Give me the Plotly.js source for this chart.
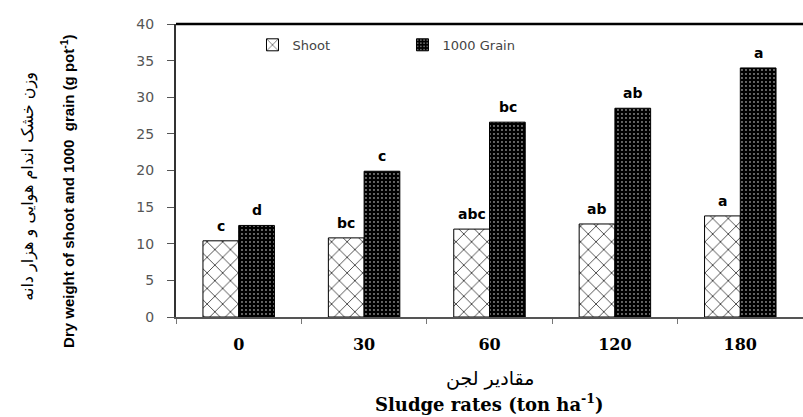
<!DOCTYPE html>
<html>
<head>
<meta charset="utf-8">
<script src="https://cdn.plot.ly/plotly-3.0.1.min.js"></script>
<style>html,body{margin:0;padding:0;background:#fff;}#chart{width:803px;height:417px;}</style>
</head>
<body>
<div id="chart"></div>
<script>
const categories = ["0", "30", "60", "120", "180"];
const shootValues = [10.4, 10.8, 12.0, 12.7, 13.8];
const grainValues = [12.5, 19.9, 26.6, 28.5, 34.0];
const shootLetters = ["c", "bc", "abc", "ab", "a"];
const grainLetters = ["d", "c", "bc", "ab", "a"];
const seriesNames = ["Shoot", "1000 Grain"];
const yTicks = [0, 5, 10, 15, 20, 25, 30, 35, 40];

const traces = [
  {
    type: "bar", name: seriesNames[0], x: categories, y: shootValues,
    marker: {color: "#ffffff", line: {color: "#000", width: 1},
      pattern: {shape: "x", fgcolor: "#000", bgcolor: "#fff", size: 11, solidity: 0.12, fillmode: "replace"}},
    hoverinfo: "skip"
  },
  {
    type: "bar", name: seriesNames[1], x: categories, y: grainValues,
    marker: {color: "#000000", line: {color: "#000", width: 1},
      pattern: {shape: ".", fgcolor: "#ffffff", bgcolor: "#000000", size: 4, solidity: 0.1, fillmode: "replace"}},
    hoverinfo: "skip"
  }
];

const annotations = [];
categories.forEach((c, i) => {
  annotations.push({x: i, y: shootValues[i], xref: "x", yref: "y", text: shootLetters[i], showarrow: false,
    xshift: -18, yanchor: "bottom", yshift: 5, font: {family: "DejaVu Sans", size: 14, color: "#000", weight: "bold"}});
  annotations.push({x: i, y: grainValues[i], xref: "x", yref: "y", text: grainLetters[i], showarrow: false,
    xshift: 18, yanchor: "bottom", yshift: 5, font: {family: "DejaVu Sans", size: 14, color: "#000", weight: "bold"}});
});
// axis titles
annotations.push({xref: "paper", yref: "paper", x: 0.5, y: -0.21, yanchor: "middle", showarrow: false,
  text: "مقادیر لجن", font: {family: "DejaVu Sans", size: 19, color: "#000"}});
annotations.push({xref: "paper", yref: "paper", x: 0.5, y: -0.293, yanchor: "middle", showarrow: false,
  text: "Sludge rates (ton ha<sup>-1</sup>)", font: {family: "DejaVu Serif", size: 18, color: "#000", weight: "bold"}});
annotations.push({xref: "paper", yref: "paper", x: -0.174, xanchor: "center", y: 0.43, yanchor: "middle", showarrow: false, textangle: -90,
  text: "Dry weight of shoot and 1000  grain (g pot<sup>-1</sup>)", font: {family: "Liberation Sans Narrow, Liberation Sans", size: 15, color: "#000", weight: "bold"}});
annotations.push({xref: "paper", yref: "paper", x: -0.236, xanchor: "center", y: 0.445, yanchor: "middle", showarrow: false, textangle: -90,
  text: "وزن خشک اندام هوایی و هزار دانه", font: {family: "DejaVu Sans", size: 16, color: "#000"}});

const layout = {
  width: 803, height: 417,
  margin: {l: 176, r: 0, t: 24, b: 100},
  paper_bgcolor: "#fff", plot_bgcolor: "#fff",
  barmode: "group", bargap: 0.43, bargroupgap: 0,
  showlegend: true,
  legend: {orientation: "h", x: 0.122, y: 0.98, xanchor: "left", yanchor: "top",
    font: {family: "DejaVu Sans", size: 13, color: "#444"}, entrywidth: 105, itemwidth: 30,
    bgcolor: "rgba(0,0,0,0)"},
  xaxis: {type: "category", showline: true, linecolor: "#555", linewidth: 1.5,
    ticks: "outside", tickson: "boundaries", ticklen: 5, tickcolor: "#777", tickwidth: 1,
    ticklabelstandoff: 12,
    tickfont: {family: "DejaVu Serif", size: 16, color: "#000", weight: "bold"},
    showgrid: false, zeroline: false, fixedrange: true},
  yaxis: {range: [0, 40], tickvals: yTicks, ticktext: yTicks.map(String),
    showline: true, linecolor: "#333", linewidth: 2,
    ticks: "outside", ticklen: 7, tickcolor: "#555", tickwidth: 1,
    ticklabelstandoff: 10,
    tickfont: {family: "DejaVu Sans", size: 14, color: "#555"},
    showgrid: false, zeroline: false, fixedrange: true},
  shapes: [{type: "line", xref: "paper", yref: "paper", x0: 0, x1: 1, y0: 1, y1: 1, line: {color: "#000", width: 2.5}}],
  annotations: annotations
};

Plotly.newPlot("chart", traces, layout, {displayModeBar: false, staticPlot: true});
</script>
</body>
</html>
